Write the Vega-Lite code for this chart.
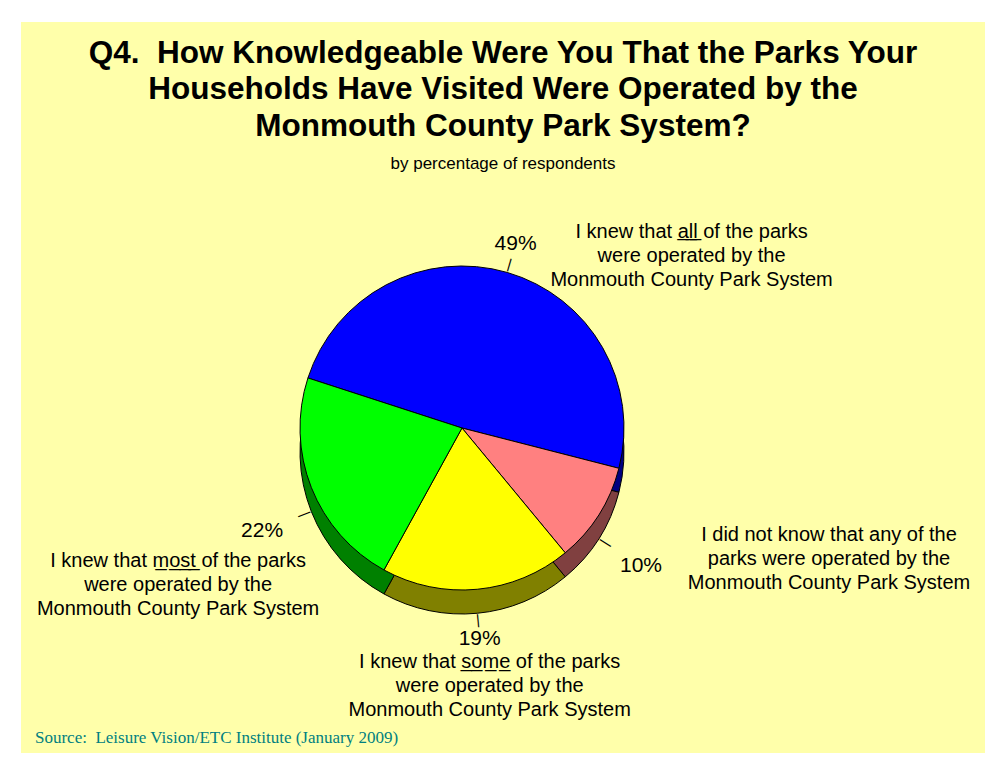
{
  "$schema": "https://vega.github.io/schema/vega-lite/v6.json",
  "background": "white",
  "padding": {"left": 21, "top": 22, "right": 9, "bottom": 8},
  "config": {"view": {"stroke": null}},
  "title": {
    "text": "Source:\u00a0 Leisure Vision/ETC Institute (January 2009)",
    "orient": "bottom", "anchor": "start", "frame": "group", "offset": -23, "dx": 14,
    "font": "Liberation Serif", "fontSize": 17, "fontWeight": "normal", "color": "#008080"
  },
  "datasets": {
    "slices": [
      {"k": 1, "cat": "all", "pct": 49, "label": "49%", "desc": "I knew that a\u0332l\u0332l\u0332 of the parks\nwere operated by the\nMonmouth County Park System"},
      {"k": 2, "cat": "none", "pct": 10, "label": "10%", "desc": "I did not know that any of the\nparks were operated by the\nMonmouth County Park System"},
      {"k": 3, "cat": "some", "pct": 19, "label": "19%", "desc": "I knew that s\u0332o\u0332m\u0332e\u0332 of the parks\nwere operated by the\nMonmouth County Park System"},
      {"k": 4, "cat": "most", "pct": 22, "label": "22%", "desc": "I knew that m\u0332o\u0332s\u0332t\u0332 of the parks\nwere operated by the\nMonmouth County Park System"}
    ]
  },
  "vconcat": [
    {
      "width": 964,
      "height": 731,
      "view": {"fill": "#FFFFAA", "stroke": null},
      "title": {
        "text": ["Q4.\u00a0 How Knowledgeable Were You That the Parks Your", "Households Have Visited Were Operated by the", "Monmouth County Park System?"],
        "subtitle": "by percentage of respondents",
        "anchor": "middle", "frame": "group", "offset": -150,
        "font": "Liberation Sans", "fontSize": 31.5, "fontWeight": "bold", "lineHeight": 36.5, "color": "black",
        "subtitleFont": "Liberation Sans", "subtitleFontSize": 17, "subtitleColor": "black", "subtitlePadding": 14
      },
      "data": {"name": "slices"},
      "layer": [
        {
          "mark": {"type": "arc", "outerRadius": 162, "stroke": "black", "strokeWidth": 1, "xOffset": -41, "yOffset": 64.5},
          "encoding": {
            "theta": {"field": "pct", "type": "quantitative", "stack": true, "scale": {"range": [-1.2566, 5.0265]}},
            "order": {"field": "k", "type": "quantitative"},
            "fill": {"field": "cat", "type": "nominal", "scale": {"domain": ["all", "none", "some", "most"], "range": ["#000080", "#804040", "#808000", "#008000"]}, "legend": null}
          }
        },
        {
          "mark": {"type": "arc", "outerRadius": 162, "stroke": "black", "strokeWidth": 1, "xOffset": -41, "yOffset": 40.5},
          "encoding": {
            "theta": {"field": "pct", "type": "quantitative", "stack": true, "scale": {"range": [-1.2566, 5.0265]}},
            "order": {"field": "k", "type": "quantitative"},
            "color": {"field": "cat", "type": "nominal", "scale": {"domain": ["all", "none", "some", "most"], "range": ["#0000FF", "#FF8080", "#FFFF00", "#00FF00"]}, "legend": null}
          }
        },
        {
          "mark": {"type": "text", "radius": 170, "xOffset": -41, "yOffset": 40.5, "fontSize": 14, "font": "Liberation Sans", "align": "center", "baseline": "middle", "color": "black", "angle": {"expr": "-72 + 1.8*(datum.pct_start + datum.pct_end)"}},
          "encoding": {
            "theta": {"field": "pct", "type": "quantitative", "stack": true},
            "order": {"field": "k", "type": "quantitative"},
            "text": {"condition": {"test": "datum.cat === 'all'", "value": "|"}, "value": ""}
          }
        },
        {
          "mark": {"type": "text", "radius": 170, "xOffset": -41, "yOffset": 64.5, "fontSize": 14, "font": "Liberation Sans", "align": "center", "baseline": "middle", "color": "black", "angle": {"expr": "-72 + 1.8*(datum.pct_start + datum.pct_end)"}},
          "encoding": {
            "theta": {"field": "pct", "type": "quantitative", "stack": true},
            "order": {"field": "k", "type": "quantitative"},
            "text": {"condition": {"test": "datum.cat !== 'all'", "value": "|"}, "value": ""}
          }
        },
        {
          "mark": {"type": "text", "radius": 192, "xOffset": -41, "yOffset": 40.5, "fontSize": 21, "font": "Liberation Sans", "align": "center", "baseline": "middle", "color": "black"},
          "encoding": {
            "theta": {"field": "pct", "type": "quantitative", "stack": true},
            "order": {"field": "k", "type": "quantitative"},
            "text": {"condition": {"test": "datum.cat === 'all'", "field": "label"}, "value": ""}
          }
        },
        {
          "mark": {"type": "text", "radius": 212, "xOffset": -41, "yOffset": 64.5, "fontSize": 21, "font": "Liberation Sans", "align": "center", "baseline": "middle", "color": "black"},
          "encoding": {
            "theta": {"field": "pct", "type": "quantitative", "stack": true},
            "order": {"field": "k", "type": "quantitative"},
            "text": {"condition": {"test": "datum.cat === 'none'", "field": "label"}, "value": ""}
          }
        },
        {
          "mark": {"type": "text", "radius": 188, "xOffset": -41, "yOffset": 64.5, "fontSize": 21, "font": "Liberation Sans", "align": "center", "baseline": "middle", "color": "black"},
          "encoding": {
            "theta": {"field": "pct", "type": "quantitative", "stack": true},
            "order": {"field": "k", "type": "quantitative"},
            "text": {"condition": {"test": "datum.cat === 'some'", "field": "label"}, "value": ""}
          }
        },
        {
          "mark": {"type": "text", "radius": 215, "xOffset": -41, "yOffset": 64.5, "fontSize": 21, "font": "Liberation Sans", "align": "center", "baseline": "middle", "color": "black"},
          "encoding": {
            "theta": {"field": "pct", "type": "quantitative", "stack": true},
            "order": {"field": "k", "type": "quantitative"},
            "text": {"condition": {"test": "datum.cat === 'most'", "field": "label"}, "value": ""}
          }
        },
        {
          "mark": {"type": "text", "radius": 192, "xOffset": -41, "yOffset": 40.5, "dx": 176, "dy": -12, "fontSize": 20, "lineHeight": 24, "lineBreak": "\n", "font": "Liberation Sans", "align": "center", "baseline": "middle", "color": "black"},
          "encoding": {
            "theta": {"field": "pct", "type": "quantitative", "stack": true},
            "order": {"field": "k", "type": "quantitative"},
            "text": {"condition": {"test": "datum.cat === 'all'", "field": "desc"}, "value": ""}
          }
        },
        {
          "mark": {"type": "text", "radius": 212, "xOffset": -41, "yOffset": 64.5, "dx": 188, "dy": -31, "fontSize": 20, "lineHeight": 24, "lineBreak": "\n", "font": "Liberation Sans", "align": "center", "baseline": "middle", "color": "black"},
          "encoding": {
            "theta": {"field": "pct", "type": "quantitative", "stack": true},
            "order": {"field": "k", "type": "quantitative"},
            "text": {"condition": {"test": "datum.cat === 'none'", "field": "desc"}, "value": ""}
          }
        },
        {
          "mark": {"type": "text", "radius": 188, "xOffset": -41, "yOffset": 64.5, "dx": 10, "dy": 23, "fontSize": 20, "lineHeight": 24, "lineBreak": "\n", "font": "Liberation Sans", "align": "center", "baseline": "middle", "color": "black"},
          "encoding": {
            "theta": {"field": "pct", "type": "quantitative", "stack": true},
            "order": {"field": "k", "type": "quantitative"},
            "text": {"condition": {"test": "datum.cat === 'some'", "field": "desc"}, "value": ""}
          }
        },
        {
          "mark": {"type": "text", "radius": 215, "xOffset": -41, "yOffset": 64.5, "dx": -84, "dy": 30, "fontSize": 20, "lineHeight": 24, "lineBreak": "\n", "font": "Liberation Sans", "align": "center", "baseline": "middle", "color": "black"},
          "encoding": {
            "theta": {"field": "pct", "type": "quantitative", "stack": true},
            "order": {"field": "k", "type": "quantitative"},
            "text": {"condition": {"test": "datum.cat === 'most'", "field": "desc"}, "value": ""}
          }
        }
      ]
    }
  ]
}
